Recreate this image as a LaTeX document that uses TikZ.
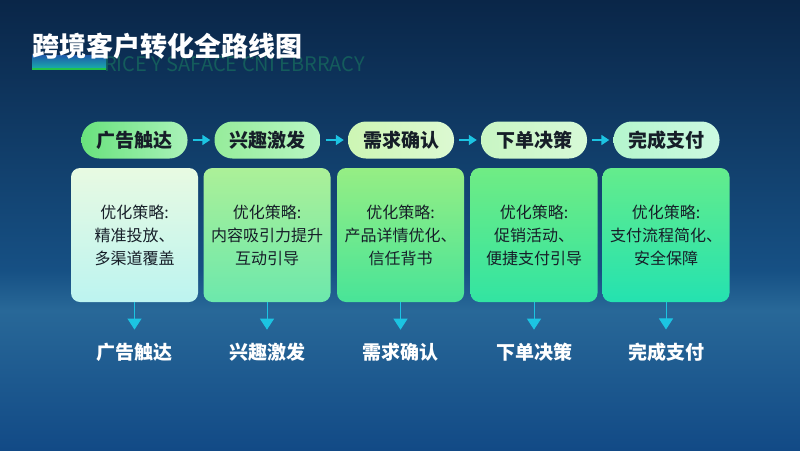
\documentclass[tikz,border=0pt]{standalone}
\usepackage{fontspec}
\setmainfont{Noto Sans CJK SC}
\usetikzlibrary{arrows.meta}

\begin{document}
\begin{tikzpicture}[x=1pt,y=-1pt,
    stage/.style={rectangle,rounded corners=18pt,minimum width=106pt,minimum height=37pt,inner sep=0pt,
      font=\bfseries\fontsize{19}{19}\selectfont,text=inkdark},
    card/.style={rectangle,rounded corners=9pt,minimum width=127pt,minimum height=134pt,inner sep=0pt,
      align=center,font=\fontsize{16}{23}\selectfont,text=inkdark},
    result/.style={inner sep=0pt,font=\bfseries\fontsize{19}{19}\selectfont,text=white},
    flow/.style={draw=arrowcyan,line width=1.6pt,-{Triangle[width=10pt,length=8pt]},shorten <=5pt,shorten >=4pt},
    drop/.style={draw=arrowcyan,line width=1pt,-{Triangle[width=14pt,length=11pt]},shorten >=13pt}]

\definecolor{bgtop}{RGB}{10,38,72}
\definecolor{bgmid}{RGB}{22,80,132}
\definecolor{bghorizon}{RGB}{40,104,152}
\definecolor{bgbottom}{RGB}{18,74,134}
\definecolor{inkdark}{RGB}{22,30,40}
\definecolor{arrowcyan}{RGB}{28,196,226}
\definecolor{ghost}{RGB}{20,92,92}
\definecolor{barblue}{RGB}{30,90,170}
\definecolor{barteal}{RGB}{25,170,170}
\definecolor{bargreen}{RGB}{34,195,74}
% stage pills
\definecolor{pa}{RGB}{105,226,125}
\definecolor{pb}{RGB}{170,242,185}
\definecolor{pc}{RGB}{150,236,155}
\definecolor{pd}{RGB}{185,246,195}
\definecolor{pe}{RGB}{205,246,180}
\definecolor{pf}{RGB}{220,249,210}
\definecolor{pg}{RGB}{200,246,195}
\definecolor{ph}{RGB}{215,249,215}
\definecolor{pi}{RGB}{180,246,205}
\definecolor{pj}{RGB}{205,249,225}
% cards
\definecolor{ca}{RGB}{232,250,226}
\definecolor{cb}{RGB}{188,244,240}
\definecolor{cc}{RGB}{172,240,152}
\definecolor{cd}{RGB}{108,232,172}
\definecolor{ce}{RGB}{150,238,132}
\definecolor{cf}{RGB}{72,228,152}
\definecolor{cg}{RGB}{112,236,132}
\definecolor{ch}{RGB}{50,228,162}
\definecolor{ci}{RGB}{100,236,140}
\definecolor{cj}{RGB}{36,226,176}

% background
\useasboundingbox (0,0) rectangle (800,450);
\fill[top color=bgtop,bottom color=bgmid] (0,0) rectangle (800,270);
\fill[top color=bgmid,bottom color=bghorizon] (0,270) rectangle (800,310);
\fill[top color=bghorizon,bottom color=bgbottom] (0,310) rectangle (800,450);

% title
\node[anchor=west,inner sep=0pt,font=\fontsize{20}{20}\selectfont,text=ghost] (ghost) at (104,64) {RICE Y SAFACE CNI EBRRACY};
\fill[top color=barblue,bottom color=barteal] (32,55) rectangle (106,68);
\fill[bargreen] (32,68) rectangle (106,70);
\node[anchor=west,inner sep=0pt,font=\bfseries\fontsize{27}{27}\selectfont,text=white] (title) at (32,46) {跨境客户转化全路线图};

% stages
\node[stage,left color=pa,right color=pb] (p1) at (134.5,140) {广告触达};
\node[stage,left color=pc,right color=pd] (p2) at (267.5,140) {兴趣激发};
\node[stage,left color=pe,right color=pf] (p3) at (401,140) {需求确认};
\node[stage,left color=pg,right color=ph] (p4) at (534,140) {下单决策};
\node[stage,left color=pi,right color=pj] (p5) at (666.5,140) {完成支付};

\draw[flow] (p1) -- (p2);
\draw[flow] (p2) -- (p3);
\draw[flow] (p3) -- (p4);
\draw[flow] (p4) -- (p5);

% strategy cards
\node[card,top color=ca,bottom color=cb] (c1) at (134.5,235) {优化策略:\\精准投放、\\多渠道覆盖};
\node[card,top color=cc,bottom color=cd] (c2) at (267,235) {优化策略:\\内容吸引力提升\\互动引导};
\node[card,top color=ce,bottom color=cf] (c3) at (400.5,235) {优化策略:\\产品详情优化、\\信任背书};
\node[card,top color=cg,bottom color=ch] (c4) at (534,235) {优化策略:\\促销活动、\\便捷支付引导};
\node[card,top color=ci,bottom color=cj] (c5) at (666,235) {优化策略:\\支付流程简化、\\安全保障};

% results
\node[result] (r1) at (134.5,352) {广告触达};
\node[result] (r2) at (267,352) {兴趣激发};
\node[result] (r3) at (400.5,352) {需求确认};
\node[result] (r4) at (534,352) {下单决策};
\node[result] (r5) at (666,352) {完成支付};

\draw[drop] (c1) -- (r1);
\draw[drop] (c2) -- (r2);
\draw[drop] (c3) -- (r3);
\draw[drop] (c4) -- (r4);
\draw[drop] (c5) -- (r5);

\end{tikzpicture}
\end{document}
